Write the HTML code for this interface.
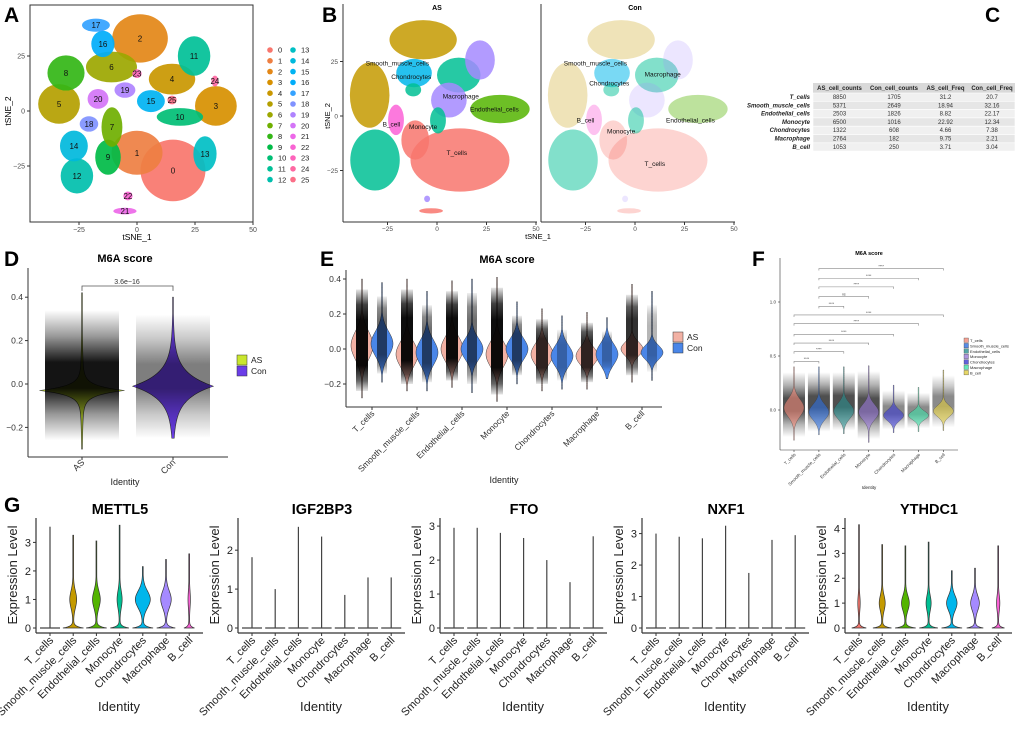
<!DOCTYPE html>
<html><head><meta charset="utf-8">
<style>
html,body{margin:0;padding:0;background:#fff;}
svg{display:block;font-family:"Liberation Sans",Arial,sans-serif;}
</style></head>
<body>
<svg id="fig" xmlns="http://www.w3.org/2000/svg" width="1020" height="735" viewBox="0 0 1020 735">
<defs>
<linearGradient id="cloudGrad" x1="0" y1="0" x2="0" y2="1">
<stop offset="0" stop-color="#000" stop-opacity="0.0"/>
<stop offset="0.2" stop-color="#000" stop-opacity="0.4"/>
<stop offset="0.4" stop-color="#000" stop-opacity="0.92"/>
<stop offset="0.6" stop-color="#000" stop-opacity="0.92"/>
<stop offset="0.8" stop-color="#000" stop-opacity="0.4"/>
<stop offset="1" stop-color="#000" stop-opacity="0.0"/>
</linearGradient>
<linearGradient id="cloudGrad2" x1="0" y1="0" x2="0" y2="1">
<stop offset="0" stop-color="#000" stop-opacity="0.1"/>
<stop offset="0.15" stop-color="#000" stop-opacity="0.75"/>
<stop offset="0.3" stop-color="#000" stop-opacity="0.95"/>
<stop offset="0.75" stop-color="#000" stop-opacity="0.95"/>
<stop offset="0.9" stop-color="#000" stop-opacity="0.6"/>
<stop offset="1" stop-color="#000" stop-opacity="0.1"/>
</linearGradient>
</defs>
<text x="4" y="22" font-size="21" font-weight="bold">A</text>
<text x="322" y="22" font-size="21" font-weight="bold">B</text>
<text x="985" y="22" font-size="21" font-weight="bold">C</text>
<text x="4" y="266" font-size="21" font-weight="bold">D</text>
<text x="320" y="266" font-size="21" font-weight="bold">E</text>
<text x="752" y="266" font-size="21" font-weight="bold">F</text>
<text x="4" y="512" font-size="21" font-weight="bold">G</text>
</svg>
<script>
// ---------- DATA ----------
const aClusterIds=[0,1,2,3,4,5,6,7,8,9,10,11,12,13,14,15,16,17,18,19,20,21,22,23,24,25];
const aClusterX=[15.5,0,1.3,34,15.1,-33.6,-11,-10.8,-30.6,-12.5,18.5,24.6,-25.9,29.3,-27.2,6,-14.7,-17.7,-20.7,-5.2,-16.8,-5.2,-3.9,0,33.6,15.1];
const aClusterY=[-27,-19,33,2.3,14.5,3.2,20,-7.3,17.3,-21,-2.7,25,-29.5,-19.5,-15.9,4.5,30.5,39,-5.9,9.5,5.5,-45.5,-38.6,17,13.6,5];
const aClusterRx=[14,11,12,9,10,9,11,4.5,8,5.5,10,7,7,5,6,6,5,6,4,4.5,4.5,5,2,2,1.5,2];
const aClusterRy=[14,10,11,9,7,9,7,9,8,8,4,9,8,8,7,5,6,3,3.5,3.5,4.5,1.5,2,2,2.5,2];
const aXTicks=[-25,0,25,50];
const aYTicks=[25,0,-25];

const bTypes=['T_cells','Smooth_muscle_cells','Endothelial_cells','Monocyte','Chondrocytes','Macrophage','B_cell'];
const bTypeColors=['#F8766D','#C49A00','#53B400','#00C094','#00B6EB','#A58AFF','#FB61D7'];
const bBlobType=[3,3,0,0,1,1,4,5,5,2,3,3,6,5,0];
const bBlobX=[11,-31.3,11.6,-11,-7,-34,-11.6,6,21.7,31.8,0.5,-12,-20.7,-5,-3];
const bBlobY=[18.8,-20.2,-20.2,-11,35,9.6,19.7,7.3,25.7,3.2,-2,12,-1.8,-38,-43.5];
const bBlobRx=[11,12.5,25,7,17,10,9,9,7.5,15,4,4,4,1.5,6];
const bBlobRy=[8,14,14.5,9,9,15,6.5,8,9,6.5,6,3,7,1.5,1.2];
const bLabelText=['Smooth_muscle_cells','Chondrocytes','Macrophage','Endothelial_cells','B_cell','Monocyte','T_cells'];
const bLabelXAS=[-20,-13,12,29,-23,-7,10];
const bLabelYAS=[24,18,9,3,-4,-5,-17];
const bLabelXCon=[-20,-13,14,28,-25,-7,10];
const bLabelYCon=[24,15,19,-2,-2,-7,-22];
const bConOpacity=[0.45,0.4,0.55,0.7,0.75,0.3,0.55];

const cRows=['T_cells','Smooth_muscle_cells','Endothelial_cells','Monocyte','Chondrocytes','Macrophage','B_cell'];
const cHeaders=['AS_cell_counts','Con_cell_counts','AS_cell_Freq','Con_cell_Freq'];
const cASCounts=['8850','5371','2503','6500','1322','2764','1053'];
const cConCounts=['1705','2649','1826','1016','608','182','250'];
const cASFreq=['31.2','18.94','8.82','22.92','4.66','9.75','3.71'];
const cConFreq=['20.7','32.16','22.17','12.34','7.38','2.21','3.04'];

const dGroups=['AS','Con'];
const dColors=['#c9e62e','#6a3de8'];
const dMedian=[-0.03,-0.01];
const dScale=[0.022,0.06];
const dHalfW=[40,38];
const dMin=[-0.3,-0.25];
const dMax=[0.42,0.4];
const dCloudLo=[-0.26,-0.25];
const dCloudHi=[0.34,0.32];
const dCloudOp=[1,0.55];
const dYTicks=[-0.2,0.0,0.2,0.4];

const eCats=['T_cells','Smooth_muscle_cells','Endothelial_cells','Monocyte','Chondrocytes','Macrophage','B_cell'];
const eMedAS=[0.02,-0.03,0.0,-0.03,-0.03,-0.04,0.0];
const eMedCon=[0.03,-0.02,0.0,0.0,-0.04,-0.03,-0.02];
const eMaxAS=[0.4,0.4,0.39,0.41,0.23,0.21,0.37];
const eMinAS=[-0.28,-0.24,-0.22,-0.3,-0.24,-0.23,-0.19];
const eMaxCon=[0.38,0.33,0.4,0.27,0.19,0.18,0.33];
const eMinCon=[-0.19,-0.24,-0.25,-0.2,-0.23,-0.17,-0.18];
const eSdAS=[0.08,0.07,0.07,0.07,0.06,0.05,0.04];
const eSdCon=[0.07,0.07,0.06,0.06,0.06,0.06,0.04];
const eYTicks=[-0.2,0.0,0.2,0.4];

const fCats=['T_cells','Smooth_muscle_cells','Endothelial_cells','Monocyte','Chondrocytes','Macrophage','B_cell'];
const fColors=['#F08878','#2f6fe0','#2a9090','#9a7ad8','#3a3ad0','#40e0a8','#e0cc40'];
const fMed=[0.02,-0.02,-0.01,-0.02,-0.05,-0.05,-0.01];
const fSd=[0.08,0.07,0.07,0.07,0.05,0.04,0.05];
const fMax=[0.4,0.4,0.4,0.41,0.23,0.21,0.37];
const fMin=[-0.28,-0.23,-0.22,-0.3,-0.21,-0.2,-0.19];
const fPairA=[0,0,0,0,0,0,1,1,1,1,1];
const fPairB=[1,2,3,4,5,6,2,3,4,5,6];
const fPairY=[0.45,0.54,0.62,0.70,0.80,0.88,0.96,1.05,1.14,1.22,1.31];
const fPairLabel=['****','****','****','****','****','****','****','ns','****','****','****'];
const fYTicks=[0.0,0.5,1.0];

const gGenes=['METTL5','IGF2BP3','FTO','NXF1','YTHDC1'];
const gCats=['T_cells','Smooth_muscle_cells','Endothelial_cells','Monocyte','Chondrocytes','Macrophage','B_cell'];
const gColors=['#F8766D','#C49A00','#53B400','#00C094','#00B6EB','#A58AFF','#FB61D7'];
const gMaxMETTL5=[3.55,3.25,3.05,3.6,2.15,2.4,2.6];
const gMaxIGF2BP3=[1.82,1.0,2.6,2.35,0.85,1.3,1.3];
const gMaxFTO=[2.95,2.95,2.8,2.65,2.0,1.35,2.7];
const gMaxNXF1=[3.0,2.9,2.85,3.25,1.75,2.8,2.95];
const gMaxYTHDC1=[4.15,3.35,3.3,3.45,2.3,2.4,3.3];
const gBaseMETTL5=[0.05,1,1,0.9,1,0.9,0.5];
const gBulgeMETTL5=[0,0.35,0.4,0.25,0.8,0.55,0.1];
const gBaseYTHDC1=[0.7,0.9,1,0.9,1,0.8,0.6];
const gBulgeYTHDC1=[0.1,0.3,0.4,0.25,0.55,0.45,0.15];
const gZero=[0,0,0,0,0,0,0];
const gAxisTop=[3.75,2.75,3.15,3.4,4.3];
const gTicksMETTL5=[0,1,2,3];
const gTicksIGF2BP3=[0,1,2];
const gTicksFTO=[0,1,2,3];
const gTicksNXF1=[0,1,2,3];
const gTicksYTHDC1=[0,1,2,3,4];

// ---------- HELPERS ----------
const NS='http://www.w3.org/2000/svg';
const svg=document.getElementById('fig');
function mk(tag,attrs,parent,text){const e=document.createElementNS(NS,tag);for(const k in attrs)e.setAttribute(k,attrs[k]);if(text!==undefined)e.textContent=text;(parent||svg).appendChild(e);return e;}
function grp(parent){return mk('g',{},parent);}
const hueAnch=[[15,[248,118,109]],[50,[222,140,0]],[75,[196,154,0]],[100,[153,168,0]],[120,[83,180,0]],[135,[0,186,56]],[160,[0,192,139]],[195,[0,191,196]],[220,[0,180,240]],[245,[0,169,255]],[255,[97,156,255]],[285,[199,124,255]],[310,[245,100,227]],[340,[255,100,176]],[375,[248,118,109]]];
function hueCol(h){for(let i=0;i<hueAnch.length-1;i++){const a=hueAnch[i],b=hueAnch[i+1];if(h>=a[0]&&h<=b[0]){const t=(h-a[0])/(b[0]-a[0]);const c=a[1].map((v,j)=>Math.round(v+(b[1][j]-v)*t));return 'rgb('+c.join(',')+')';}}return '#888';}
function violin(cx,ys,lo,hi,wfn,n){let L=[],R=[];for(let i=0;i<=n;i++){const v=lo+(hi-lo)*i/n;const w=Math.max(0.4,wfn(v));L.push((cx-w).toFixed(2)+','+ys(v).toFixed(2));R.push((cx+w).toFixed(2)+','+ys(v).toFixed(2));}return 'M'+L.join(' L')+' L'+R.reverse().join(' L')+' Z';}
function fmt1(v){return v.toFixed(1).replace('-','\u2212');}

// ---------- PANEL A ----------
(function(){
const g=grp();
const xA=v=>137+v*2.32, yA=v=>111-v*2.2;
const order=aClusterIds.slice().sort((p,q)=>aClusterRx[q]*aClusterRy[q]-aClusterRx[p]*aClusterRy[p]);
order.forEach(i=>{
 const c=hueCol(15+i*360/26);
 const e=mk('ellipse',{cx:xA(aClusterX[i]),cy:yA(aClusterY[i]),rx:aClusterRx[i]*2.32,ry:aClusterRy[i]*2.2,fill:c,'fill-opacity':0.92},g);
 
 
});
aClusterIds.forEach(i=>{
 const t=mk('text',{x:xA(aClusterX[i]),y:yA(aClusterY[i])+3,'font-size':8,'text-anchor':'middle',fill:'#111'},g,String(i));
 
 
});
const box=mk('rect',{x:30,y:5,width:223,height:217,fill:'none',stroke:'#333','stroke-width':1},g);


aXTicks.forEach(v=>{mk('line',{x1:xA(v),x2:xA(v),y1:222,y2:225,stroke:'#333'},g);
 const t=mk('text',{x:xA(v),y:232,'font-size':7,'text-anchor':'middle',fill:'#4d4d4d'},g,v<0?'\u2212'+(-v):String(v));
 
 });
aYTicks.forEach(v=>{mk('line',{x1:27,x2:30,y1:yA(v),y2:yA(v),stroke:'#333'},g);
 const t=mk('text',{x:25,y:yA(v)+2.5,'font-size':7,'text-anchor':'end',fill:'#4d4d4d'},g,v<0?'\u2212'+(-v):String(v));
 
 });
const xt=mk('text',{x:137,y:240,'font-size':8.5,'text-anchor':'middle'},g,'tSNE_1');


const yt=mk('text',{x:0,y:0,'font-size':8.5,'text-anchor':'middle',transform:'translate(11,111) rotate(-90)'},g,'tSNE_2');


aClusterIds.forEach(i=>{
 const col=i<13?0:1, row=i%13;
 const cx=col?293:270, cy=50+row*10.8;
 const d=mk('circle',{cx:cx,cy:cy,r:2.8,fill:hueCol(15+i*360/26)},g);
 
 
 const t=mk('text',{x:cx+8,y:cy+2.7,'font-size':7.5,fill:'#222'},g,String(i));
 
 
});
})();

// ---------- PANEL B ----------
(function(){
const g=grp();
const yB=v=>116-v*2.18;
[['AS',437,343,537,1],['Con',635,541,735,0]].forEach(([title,x0,left,right,isAS])=>{
 const xB=v=>x0+v*1.98;
 const sg=grp(g);
 bBlobX.forEach((_,i)=>{
  const ty=bBlobType[i];
  const e=mk('ellipse',{cx:xB(bBlobX[i]),cy:yB(bBlobY[i]),rx:bBlobRx[i]*1.98,ry:bBlobRy[i]*2.18,fill:bTypeColors[ty],'fill-opacity':isAS?0.85:bConOpacity[ty]*0.7},sg);
  
  
 });
 const lx=isAS?bLabelXAS:bLabelXCon, ly=isAS?bLabelYAS:bLabelYCon;
 bLabelText.forEach((s,i)=>{
  const t=mk('text',{x:xB(lx[i]),y:yB(ly[i])+2,'font-size':6.5,'text-anchor':'middle',fill:'#111'},sg,s);
  
  
 });
 mk('line',{x1:left,x2:left,y1:4,y2:222,stroke:'#333'},sg);
 mk('line',{x1:left,x2:right,y1:222,y2:222,stroke:'#333'},sg);
 const tt=mk('text',{x:(left+right)/2-3,y:10,'font-size':7,'font-weight':'bold','text-anchor':'middle'},sg,title);
 
 
 aXTicks.forEach(v=>{const px=xB(v);mk('line',{x1:px,x2:px,y1:222,y2:225,stroke:'#333'},sg);
  const t=mk('text',{x:px,y:231,'font-size':6.5,'text-anchor':'middle',fill:'#4d4d4d'},sg,v<0?'\u2212'+(-v):String(v));
  
  });
});
aYTicks.forEach(v=>{mk('line',{x1:340,x2:343,y1:yB(v),y2:yB(v),stroke:'#333'},g);
 const t=mk('text',{x:338,y:yB(v)+2.5,'font-size':6.5,'text-anchor':'end',fill:'#4d4d4d'},g,v<0?'\u2212'+(-v):String(v));
 
 });
const xt=mk('text',{x:538,y:239,'font-size':7.5,'text-anchor':'middle'},g,'tSNE_1');


const yt=mk('text',{x:0,y:0,'font-size':7.5,'text-anchor':'middle',transform:'translate(330,116) rotate(-90)'},g,'tSNE_2');


})();

// ---------- PANEL C ----------
(function(){
const g=grp();
const colX=[813,866,922,969,1015];
const hy=83,hh=10,rh=8.3;
const hb=mk('rect',{x:813,y:hy,width:202,height:hh,fill:'#d9d9d9'},g);


cHeaders.forEach((h,j)=>{const t=mk('text',{x:(colX[j]+colX[j+1])/2,y:hy+7,'font-size':6,'font-weight':'bold','text-anchor':'middle',fill:'#222'},g,h);
 
 });
const cols=[cASCounts,cConCounts,cASFreq,cConFreq];
cRows.forEach((r,i)=>{
 const y=hy+hh+i*rh;
 const rb=mk('rect',{x:813,y:y,width:202,height:rh,fill:i%2?'#e6e6e6':'#f0f0f0',stroke:'#fff','stroke-width':0.6},g);
 
 
 const rl=mk('text',{x:810,y:y+6,'font-size':6,'font-style':'italic','font-weight':'bold','text-anchor':'end',fill:'#222'},g,r);
 
 
 cols.forEach((arr,j)=>{const t=mk('text',{x:(colX[j]+colX[j+1])/2,y:y+6,'font-size':6,'text-anchor':'middle',fill:'#333'},g,arr[i]);
  
  });
});
})();

// ---------- PANEL D ----------
(function(){
const g=grp();
const yD=v=>384-v*217, xD=[82,173];
dGroups.forEach((s,i)=>{
 const p=mk('path',{d:violin(xD[i],yD,dMin[i],dMax[i],v=>dHalfW[i]*Math.exp(-Math.abs(v-dMedian[i])/dScale[i])+2.5*Math.exp(-Math.abs(v-dMedian[i])/0.15),160),fill:dColors[i],stroke:'#333','stroke-width':0.6},g);
 
 
 const c=mk('rect',{x:xD[i]-37,y:yD(dCloudHi[i]),width:74,height:yD(dCloudLo[i])-yD(dCloudHi[i]),fill:'url(#cloudGrad)',opacity:dCloudOp[i]},g);
 
 
 const t=mk('text',{x:0,y:0,'font-size':9,'text-anchor':'end',fill:'#333',transform:'translate('+(xD[i]+3)+',463) rotate(-45)'},g,s);
 
 
 mk('line',{x1:xD[i],x2:xD[i],y1:457,y2:460,stroke:'#333'},g);
});
mk('line',{x1:28,x2:28,y1:268,y2:457,stroke:'#333'},g);
mk('line',{x1:28,x2:228,y1:457,y2:457,stroke:'#333'},g);
dYTicks.forEach(v=>{mk('line',{x1:25,x2:28,y1:yD(v),y2:yD(v),stroke:'#333'},g);
 const t=mk('text',{x:23,y:yD(v)+3,'font-size':8.5,'text-anchor':'end',fill:'#333'},g,fmt1(v));
 
 });
const br=mk('path',{d:'M'+xD[0]+','+(yD(0.42)-2)+' V286 H'+xD[1]+' V'+(yD(0.42)-2),fill:'none',stroke:'#555','stroke-width':0.8},g);


const pv=mk('text',{x:127,y:284,'font-size':7,'text-anchor':'middle',fill:'#333'},g,'3.6e\u221216');


const ti=mk('text',{x:125,y:262,'font-size':11,'font-weight':'bold','text-anchor':'middle'},g,'M6A score');


const xa=mk('text',{x:125,y:485,'font-size':9,'text-anchor':'middle',fill:'#222'},g,'Identity');


dGroups.forEach((s,i)=>{
 const k=mk('rect',{x:237,y:355+i*11,width:10,height:10,fill:dColors[i],stroke:'#333','stroke-width':0.5},g);
 
 
 const t=mk('text',{x:251,y:363+i*11,'font-size':8.5,fill:'#222'},g,s);
 
 
});
})();

// ---------- PANEL E ----------
(function(){
const g=grp();
const yE=v=>349-v*175, xE=i=>372+i*45;
const colAS='#f2b1a4', colCon='#4a86e8';
eCats.forEach((c,i)=>{
 const xa=xE(i)-10, xc=xE(i)+10;
 const pa=mk('path',{d:violin(xa,yE,eMinAS[i],eMaxAS[i],v=>11*Math.exp(-0.5*Math.pow((v-eMedAS[i])/eSdAS[i],2)),120),fill:colAS,stroke:'#333','stroke-width':0.5},g);
 
 
 const pc=mk('path',{d:violin(xc,yE,eMinCon[i],eMaxCon[i],v=>11*Math.exp(-0.5*Math.pow((v-eMedCon[i])/eSdCon[i],2)),120),fill:colCon,stroke:'#333','stroke-width':0.5},g);
 
 
 const ca=mk('rect',{x:xa-6,y:yE(eMaxAS[i]-0.06),width:12,height:yE(eMinAS[i]+0.04)-yE(eMaxAS[i]-0.06),fill:'url(#cloudGrad2)',opacity:i<4?1:0.85},g);
 
 
 const cc=mk('rect',{x:xc-5,y:yE(eMaxCon[i]-0.08),width:10,height:yE(eMinCon[i]+0.05)-yE(eMaxCon[i]-0.08),fill:'url(#cloudGrad2)',opacity:i<4?0.6:0.3},g);
 
 
 mk('line',{x1:xE(i),x2:xE(i),y1:407,y2:410,stroke:'#333'},g);
 const t=mk('text',{x:0,y:0,'font-size':8.5,'text-anchor':'end',fill:'#333',transform:'translate('+(xE(i)+3)+',414) rotate(-45)'},g,c);
 
 
});
mk('line',{x1:346,x2:346,y1:270,y2:407,stroke:'#333'},g);
mk('line',{x1:346,x2:662,y1:407,y2:407,stroke:'#333'},g);
eYTicks.forEach(v=>{mk('line',{x1:343,x2:346,y1:yE(v),y2:yE(v),stroke:'#333'},g);
 const t=mk('text',{x:341,y:yE(v)+3,'font-size':8.5,'text-anchor':'end',fill:'#333'},g,fmt1(v));
 
 });
const ti=mk('text',{x:507,y:263,'font-size':11,'font-weight':'bold','text-anchor':'middle'},g,'M6A score');


const xa=mk('text',{x:504,y:483,'font-size':9,'text-anchor':'middle',fill:'#222'},g,'Identity');


[['AS',colAS],['Con',colCon]].forEach(([s,c],i)=>{
 const k=mk('rect',{x:673,y:332+i*11,width:10,height:10,fill:c,stroke:'#333','stroke-width':0.5},g);
 
 
 const t=mk('text',{x:687,y:340+i*11,'font-size':8.5,fill:'#222'},g,s);
 
 
});
})();

// ---------- PANEL F ----------
(function(){
const g=grp();
const yF=v=>410-v*108, xF=i=>794+i*24.9;
fCats.forEach((c,i)=>{
 const cl=mk('rect',{x:xF(i)-11,y:yF(fMax[i]-0.05),width:22,height:yF(fMin[i]+0.03)-yF(fMax[i]-0.05),fill:'url(#cloudGrad)',opacity:i<4?0.75:0.5},g);
 
 
 const p=mk('path',{d:violin(xF(i),yF,fMin[i],fMax[i],v=>10*Math.exp(-0.5*Math.pow((v-fMed[i])/fSd[i],2)),100),fill:fColors[i],'fill-opacity':0.6,stroke:'#333','stroke-width':0.3},g);
 
 
 mk('line',{x1:xF(i),x2:xF(i),y1:450,y2:452,stroke:'#333','stroke-width':0.6},g);
 const t=mk('text',{x:0,y:0,'font-size':4.5,'text-anchor':'end',fill:'#333',transform:'translate('+(xF(i)+2)+',455) rotate(-45)'},g,c);
 
 
});
fPairA.forEach((a,k)=>{
 const y=yF(fPairY[k]);
 const b=mk('path',{d:'M'+xF(a)+','+(y+2)+' V'+y+' H'+xF(fPairB[k])+' V'+(y+2),fill:'none',stroke:'#888','stroke-width':0.6},g);
 
 
 const t=mk('text',{x:(xF(a)+xF(fPairB[k]))/2,y:y-1.2,'font-size':3.5,'text-anchor':'middle',fill:'#444'},g,fPairLabel[k]);
 
 
});
mk('line',{x1:780,x2:780,y1:258,y2:450,stroke:'#333','stroke-width':0.6},g);
mk('line',{x1:780,x2:958,y1:450,y2:450,stroke:'#333','stroke-width':0.6},g);
fYTicks.forEach(v=>{mk('line',{x1:778,x2:780,y1:yF(v),y2:yF(v),stroke:'#333','stroke-width':0.6},g);
 const t=mk('text',{x:776,y:yF(v)+1.5,'font-size':4.5,'text-anchor':'end',fill:'#333'},g,v.toFixed(1));
 
 });
const ti=mk('text',{x:869,y:255,'font-size':5.5,'font-weight':'bold','text-anchor':'middle'},g,'M6A score');


const xa=mk('text',{x:869,y:489,'font-size':4.5,'text-anchor':'middle',fill:'#222'},g,'Identity');


fCats.forEach((c,i)=>{
 const k=mk('rect',{x:964,y:338+i*5.4,width:4.5,height:4.5,fill:fColors[i],'fill-opacity':0.8,stroke:'#333','stroke-width':0.3},g);
 
 
 const t=mk('text',{x:970,y:342+i*5.4,'font-size':4,fill:'#222'},g,c);
 
 
});
})();

// ---------- PANEL G ----------
(function(){
const maxes=[gMaxMETTL5,gMaxIGF2BP3,gMaxFTO,gMaxNXF1,gMaxYTHDC1];
const bases=[gBaseMETTL5,gZero,gZero,gZero,gBaseYTHDC1];
const bulges=[gBulgeMETTL5,gZero,gZero,gZero,gBulgeYTHDC1];
const ticks=[gTicksMETTL5,gTicksIGF2BP3,gTicksFTO,gTicksNXF1,gTicksYTHDC1];
const lefts=[36,238,440,642,845];
gGenes.forEach((gene,k)=>{
 const g=grp();
 const L=lefts[k], ppu=107/gAxisTop[k];
 const yG=v=>628-v*ppu, xG=i=>L+14+i*23.2;
 gCats.forEach((c,i)=>{
  const b=bases[k][i], bu=bulges[k][i];
  if(b<=0.05){
   const ln=mk('line',{x1:xG(i),x2:xG(i),y1:yG(0),y2:yG(maxes[k][i]),stroke:'#444','stroke-width':1.2},g);
   
   
   const hz=mk('line',{x1:xG(i)-10,x2:xG(i)+10,y1:yG(0),y2:yG(0),stroke:'#444','stroke-width':1.2},g);
   
   
  } else {
   const p=mk('path',{d:violin(xG(i),yG,0,maxes[k][i],v=>10*b*Math.exp(-v/0.06)+9*bu*Math.exp(-0.5*Math.pow((v-1)/0.3,2))+0.3,160),fill:gColors[i],stroke:'#333','stroke-width':0.7},g);
   
   
  }
  mk('line',{x1:xG(i),x2:xG(i),y1:633,y2:636,stroke:'#333'},g);
  const t=mk('text',{x:0,y:0,'font-size':11,'text-anchor':'end',fill:'#222',transform:'translate('+(xG(i)+4)+',641) rotate(-45)'},g,c);
  
  
 });
 mk('line',{x1:L,x2:L,y1:518,y2:633,stroke:'#333','stroke-width':1.2},g);
 mk('line',{x1:L,x2:L+167,y1:633,y2:633,stroke:'#333','stroke-width':1.2},g);
 ticks[k].forEach(v=>{mk('line',{x1:L-3,x2:L,y1:yG(v),y2:yG(v),stroke:'#333'},g);
  const t=mk('text',{x:L-5,y:yG(v)+4,'font-size':11,'text-anchor':'end',fill:'#222'},g,String(v));
  
  });
 const ti=mk('text',{x:L+84,y:514,'font-size':14.5,'font-weight':'bold','text-anchor':'middle'},g,gene);
 
 
 const ya=mk('text',{x:0,y:0,'font-size':13,'text-anchor':'middle',fill:'#222',transform:'translate('+(L-19)+',575) rotate(-90)'},g,'Expression Level');
 
 
 const xa=mk('text',{x:L+83,y:711,'font-size':13,'text-anchor':'middle',fill:'#222'},g,'Identity');
 
 
});
})();
</script>
</body></html>
